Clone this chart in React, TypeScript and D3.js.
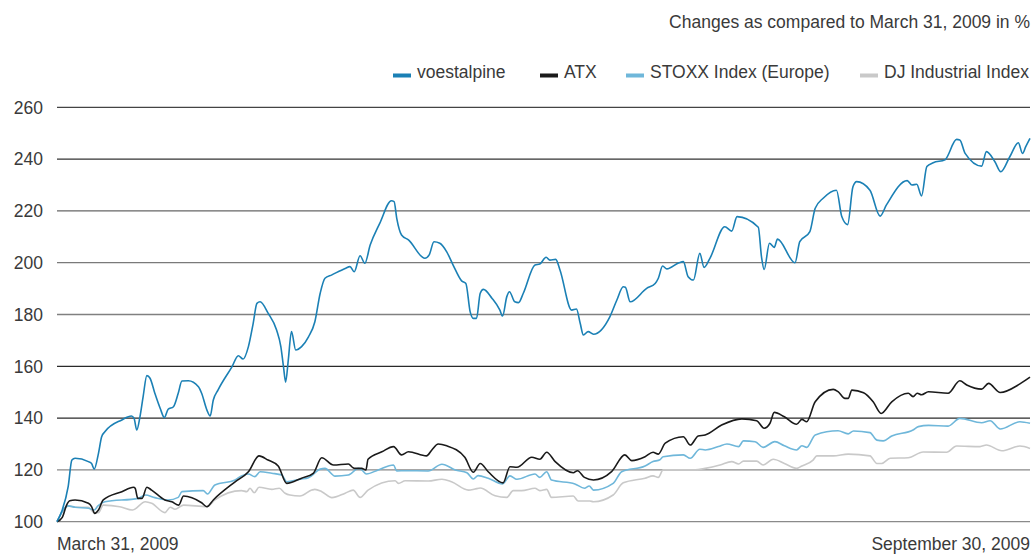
import React from "react";
import * as d3 from "d3";

// x = calendar days since March 31, 2009 (0 .. 183 = September 30, 2009); y = index (March 31, 2009 = 100)
const voestDays = [0,0.9,2.1,2.8,3.4,5.9,6.5,7.0,7.8,8.4,9.0,12.2,14.0,14.5,15.0,15.6,16.2,16.9,17.5,18.4,19.4,20.2,20.9,21.9,22.8,23.5,24.7,26.6,27.2,28.2,28.8,29.4,30.3,32.9,34.1,35.0,36.0,36.9,37.6,38.2,39.7,41.3,42.1,42.6,43.0,43.5,44.1,44.9,46.0,47.3,48.5,49.5,50.4,51.7,54.2,55.1,55.9,57.0,57.9,58.9,60.7,62.9,63.4,63.9,64.8,66.1,69.2,70.0,70.9,72.0,73.3,74.5,76.1,76.9,77.7,78.3,78.9,79.6,80.2,81.8,83.3,83.8,84.6,85.1,86.1,86.8,87.7,89.9,90.8,92.0,92.7,93.8,94.6,96.8,97.7,98.4,99.0,99.9,100.9,104.0,105.3,106.5,106.9,107.8,110.9,112.5,113.1,113.9,114.7,117.0,117.8,118.7,119.7,120.9,121.7,122.8,125.6,126.9,127.9,131.9,132.5,133.0,134.0,134.9,135.5,138.8,139.7,141.6,142.6,144.1,146.6,147.6,148.7,149.7,150.4,152.9,154.8,156.0,159.9,160.8,161.7,162.6,163.6,164.8,167.0,169.2,169.8,170.8,173.9,174.8,176.4,177.5,179.2,180.8,181.6,182.2,183.0];
const voestValues = [100,104,113.5,123.8,124.5,123.2,122.5,120.3,126.4,132.8,134.7,139.3,140.8,139.9,135.4,140.5,148.3,156.4,155.4,149.6,143.8,140.2,143.4,144.4,149.6,154.3,154.4,152.1,149.6,143.1,140.8,147,150.9,159.8,164.1,162.8,167.6,176.6,184.3,184.9,180.5,174,167.6,159.8,153.9,162.4,173.4,166.3,167.6,171.4,177.2,188.2,194,195.3,197.8,198.5,196.5,202.7,199.8,206.8,215.2,223.9,223.6,217.1,210.7,208.8,201.7,203,208.1,207.5,204.2,199.1,193,192,181.1,178.5,178.5,188.2,189.7,186.3,181.7,179.4,186.9,188.8,184.9,184.6,188.2,199.1,199.5,202.1,201,201.3,197.2,181.7,182.1,176.6,172.1,173.4,172.4,179.2,185.6,190.7,190.5,184.9,190.1,192,194,198.7,197.6,200,200.4,194.6,193.3,203.6,198.2,201.7,213.9,212.2,217.8,213.7,202.3,197.4,207.5,205.9,209.1,200,208.1,212,221,224.9,228,217.8,214.7,229.3,231.3,228,218,222.3,231.7,230,230.3,225.8,237.1,238.6,239.7,247.6,247.4,242.2,237.3,242.9,239,235.1,240.9,246.3,242.2,244.8,248];

const atxDays = [0,1.0,1.8,2.4,3.4,5.9,6.5,7.1,7.8,8.7,12.2,14.4,14.7,15.2,16.0,16.9,17.8,20.3,21.6,22.9,23.8,27.2,28.2,29.4,33.5,36.0,38.0,39.7,41.6,43.2,46.0,48.2,49.8,52.0,54.8,55.7,56.0,57.3,58.1,58.5,61.1,63.3,64.8,66.1,69.5,70.5,71.7,73.3,76.7,78.3,79.6,81.1,83.9,85.2,86.5,89.3,90.8,92.1,93.7,97.1,97.9,99.2,100.9,104.3,106.8,108.1,110.6,112.1,113.1,114.4,117.8,119.1,120.6,121.9,125.0,128.8,131.6,133.0,134.1,134.9,136.8,139.1,140.1,141.0,142.6,146.0,146.9,148.2,148.8,149.5,151.7,153.5,155.0,157.0,160.1,161.0,161.8,162.6,163.9,167.6,169.8,171.1,173.9,175.2,177.4,181.1,183];
const atxValues = [100,101.7,106.4,108.1,108.4,107.1,105.8,103.2,104.5,108.4,111.6,113.3,112.9,109,109,113.3,112.2,108.4,107.7,106.4,109.9,107.3,105.8,108.4,115.4,119.3,125.4,123.8,121.5,114.8,116.8,118.7,124.7,121.9,122.3,120.8,120.6,120.6,120,124.1,127,129,125.8,127,125.4,127.7,130,129.3,124.9,119.1,122.5,119.3,115,121.2,121,124.9,124.1,126.8,123.2,118.9,119.7,117.1,116.1,119.3,125.8,123.6,125.1,126.8,126.1,130.3,132.8,129.6,133.1,133.5,137.3,139.7,139,136.1,138,142.2,140.5,137.6,139.5,138.6,146.3,151.1,150.2,147.6,147.6,150.8,149.8,146.3,141.8,146.3,149.6,148.3,149.6,149,150.2,149.6,154.4,152.8,151.2,153.4,149.9,153.2,155.8];

const stoxxDays = [0,2.1,3.4,5.9,7.0,7.7,9.0,15.3,16.6,18.4,20.9,22.8,23.5,27.5,28.3,29.7,33.5,34.7,36.0,37.2,38.2,40.4,42.3,43.2,45.7,47.3,49.5,50.4,52.3,54.8,56.7,57.3,58.2,60.4,63.3,63.9,65.5,69.8,72.4,74.9,77.1,78.3,79.2,81.1,83.8,85.2,86.5,89.9,90.8,92.1,93.0,97.4,99.2,100.1,100.9,104.6,106.2,110.6,112.1,113.4,114.0,117.8,119.1,120.9,121.9,124.4,126.0,128.2,129.1,131.3,132.8,135.0,136.8,139.1,140.1,141.0,142.6,146.9,148.8,149.8,152.9,154.2,155.4,157.0,161.0,162.0,163.9,167.6,169.8,173.9,175.5,177.4,181.1,183];
const stoxxValues = [100,106.1,105.6,105.2,104.5,106.1,107.7,109,110.3,109.3,108.4,109.4,111.6,112,110.7,114.2,116.1,117.7,118.4,117.4,119.3,118.7,118,115.4,116.4,117,120.3,120.6,117.6,118,120.6,120,118.4,120,121.9,119.6,119.7,119.6,122.2,120,118.9,116.5,117.8,116.8,114.6,117.7,116.4,118.4,117.1,119.3,116.1,114.6,112.9,113.8,112.2,114.8,119.3,121.5,123.2,123.9,125.1,125.8,124.5,128,127.7,129,130,129,131.2,130.9,128.7,130.9,129.3,127.7,129.3,128.7,133.5,135.1,133.9,135,134.4,131.5,131.2,133.1,135.4,136.7,137.2,136.9,139.9,138.2,139,135.8,138.6,138];

const djDays = [0,2.1,3.4,5.9,7.0,7.8,8.7,11.8,14.2,16.6,17.8,20.3,21.3,22.2,23.8,28.2,29.7,34.7,35.7,36.3,37.1,38.0,40.4,41.8,42.9,43.8,45.7,47.9,48.5,49.8,51.7,54.2,55.7,57.0,58.5,63.6,64.2,65.5,69.8,72.4,74.2,77.4,78.6,79.6,82.4,84.6,85.8,87.4,89.9,90.8,92.1,93.0,97.1,98.0,100.2,100.9,104.6,106.5,110.6,112.1,113.1,114.0,120.0,121.9,124.7,126.9,128.2,129.1,131.6,132.8,134.7,136.8,139.1,140.1,142.2,142.9,146.0,148.8,152.9,154.2,155.1,156.7,160.1,162.9,167.3,169.2,173.6,174.8,177.7,181.1,183];
const djValues = [100,106.1,105.6,105.6,103.5,103.5,106.4,105.8,104.5,107.7,107.1,103.5,105.6,104.8,106.4,105.8,108.4,112,111.6,112.9,111.2,113.3,112.5,112.9,111,110.3,109.9,112.2,112.5,111.6,109.3,111,112.2,109.4,112.2,115.8,114.8,115.8,115.7,116.4,115.4,112.2,112.6,113,110,109.4,112,112,112.9,112,112.5,109.4,109.9,108,108,107.7,110.3,115,116.8,117.7,117.1,120,120,120.6,121.9,123.2,122.3,123.4,123.4,121.9,124.1,122.5,120.6,121.5,123.8,125.4,125.4,126.1,125.4,122.5,122.5,124.5,124.7,126.9,126.8,129.2,129,129.6,127.4,129.2,128.3];

const yTicks = [100, 120, 140, 160, 180, 200, 220, 240, 260];
const seriesNames = ["voestalpine", "ATX", "STOXX Index (Europe)", "DJ Industrial Index"];
const startLabel = "March 31, 2009";
const endLabel = "September 30, 2009";
const titleText = "Changes as compared to March 31, 2009 in %";

const colors = ["#1b80b5", "#1a1a1a", "#6fb7da", "#c9c9c9"];
const gridColors: Record<number, string> = { 100: "#8a8a8a", 120: "#888", 140: "#2a2a2a", 160: "#2a2a2a", 180: "#808080", 200: "#7a7a7a", 220: "#666", 240: "#333", 260: "#444" };
const legendX = [393, 540, 626, 860];

export default function App() {
  const W = 1032, H = 555;
  const left = 57, right = 1030;
  const x = d3.scaleLinear().domain([0, 183]).range([left, right]);
  const y = d3.scaleLinear().domain([100, 260]).range([521.7, 107.3]);
  const line = d3.line<[number, number]>().x(d => x(d[0])).y(d => y(d[1])).curve(d3.curveMonotoneX);
  const series = [
    { days: voestDays, vals: voestValues },
    { days: atxDays, vals: atxValues },
    { days: stoxxDays, vals: stoxxValues },
    { days: djDays, vals: djValues },
  ];
  const font = "'Liberation Sans', Arial, sans-serif";
  const fs = 17.5;
  const textFill = "#3a3a3a";
  const order = [3, 2, 1, 0];
  return (
    <div style={{ position: "absolute", left: 0, top: 0 }}>
      <svg width={W} height={H} style={{ display: "block", background: "#fff" }} fontFamily={font}>
        <text x={right} y={28} textAnchor="end" fontSize={fs} fill={textFill}>{titleText}</text>
        {seriesNames.map((n, i) => (
          <g key={n}>
            <rect x={legendX[i]} y={73.5} width={18} height={4} fill={colors[i]} />
            <text x={legendX[i] + 24} y={78} fontSize={fs} fill={textFill}>{n}</text>
          </g>
        ))}
        {yTicks.map(t => (
          <g key={t}>
            <line x1={left} x2={right} y1={y(t)} y2={y(t)} stroke={gridColors[t]} strokeWidth={1.3} />
            <text x={43} y={y(t)} dy="0.36em" textAnchor="end" fontSize={fs} fill={textFill}>{t}</text>
          </g>
        ))}
        {order.map(i => {
          const s = series[i];
          const pts: [number, number][] = s.days.map((d, k) => [d, s.vals[k]]);
          return <path key={i} d={line(pts) || ""} fill="none" stroke={colors[i]} strokeWidth={1.6} strokeLinejoin="round" />;
        })}
        <text x={left} y={550} fontSize={fs} fill={textFill}>{startLabel}</text>
        <text x={right} y={550} textAnchor="end" fontSize={fs} fill={textFill}>{endLabel}</text>
      </svg>
    </div>
  );
}
